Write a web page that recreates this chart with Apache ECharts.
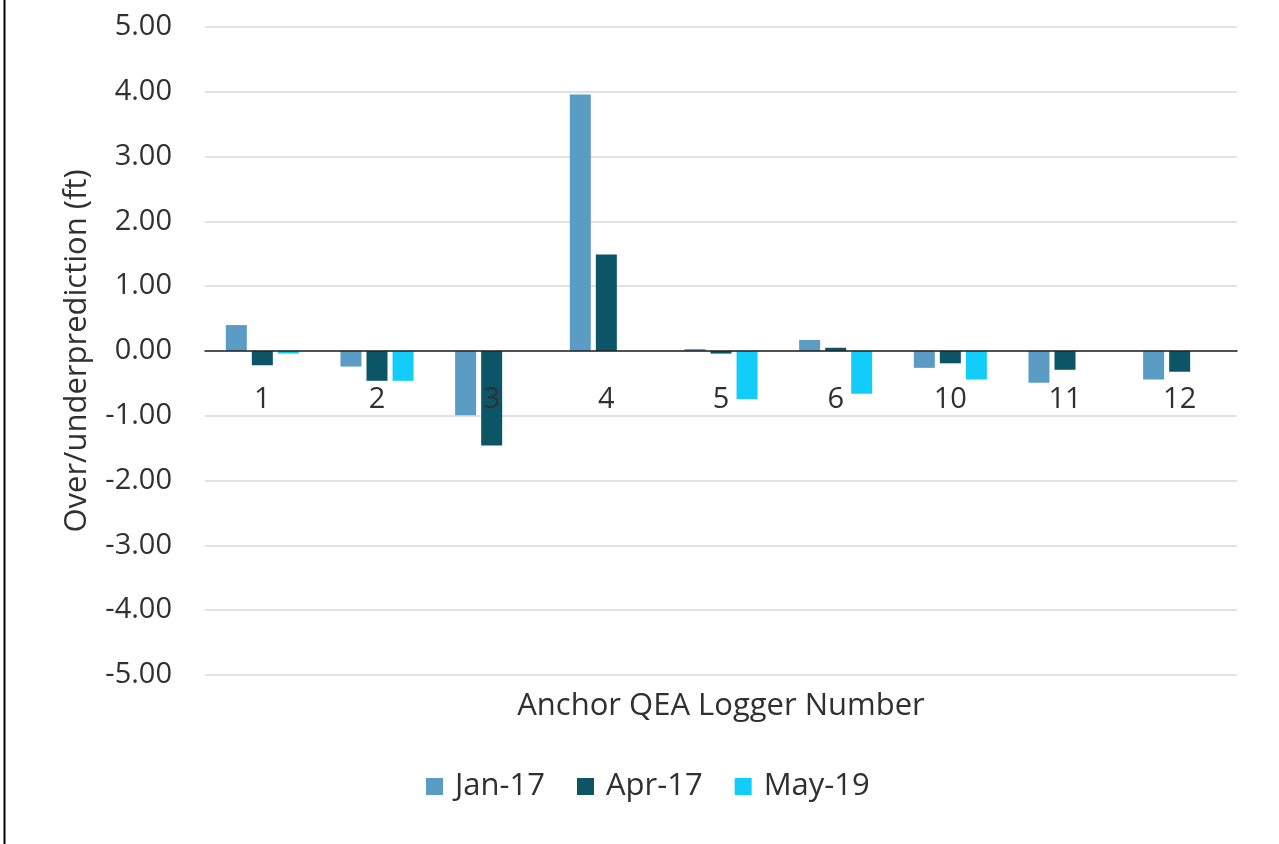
<!DOCTYPE html>
<html>
<head>
<meta charset="utf-8">
<title>Over/underprediction by Logger</title>
<script src="https://cdn.jsdelivr.net/npm/echarts@6/dist/echarts.min.js"></script>
<style>
  html, body { margin: 0; padding: 0; background: #ffffff; }
  #chart { width: 1279px; height: 844px; }
</style>
</head>
<body>
<div id="chart"></div>
<script>
// Logger numbers along the x axis
const loggers = ['1', '2', '3', '4', '5', '6', '10', '11', '12'];

// Over/underprediction (ft) per survey
const jan17 = [0.40, -0.24, -0.99, 3.96, 0.03, 0.17, -0.26, -0.49, -0.44];
const apr17 = [-0.22, -0.46, -1.46, 1.49, -0.04, 0.05, -0.19, -0.29, -0.32];
const may19 = [-0.04, -0.46, null, null, -0.74, -0.66, -0.44, null, null];

const seriesNames = ['Jan-17', 'Apr-17', 'May-19'];
const seriesColors = ['#5A9CC4', '#0C5567', '#12CDF9'];

const FONT = '"Open Sans", "Noto Sans", sans-serif';
const TEXT = '#303030';

const chart = echarts.init(document.getElementById('chart'), null, { renderer: 'canvas' });

function barSeries(name, data, color) {
  return {
    name: name,
    type: 'bar',
    data: data,
    barWidth: 21,
    barGap: '24%',
    itemStyle: { color: color },
    emphasis: { disabled: true }
  };
}

chart.setOption({
  animation: false,
  backgroundColor: '#ffffff',
  textStyle: { fontFamily: FONT, color: TEXT },
  grid: {
    left: 205, right: 42, top: 27, bottom: 169,
    containLabel: false,
    outerBoundsMode: 'none'
  },
  legend: {
    data: seriesNames,
    bottom: 37,
    left: 421,
    itemWidth: 17,
    itemHeight: 17,
    itemGap: 32,
    icon: 'rect',
    textStyle: { fontFamily: FONT, fontSize: 31, color: TEXT, padding: [0, 0, 0, 7] }
  },
  xAxis: {
    type: 'category',
    data: loggers,
    z: 5,
    axisLine: { onZero: true, lineStyle: { color: '#222222', width: 1.5 } },
    axisTick: { show: false },
    // category labels sit just under the zero line, drawn over the bars
    axisLabel: { fontFamily: FONT, fontSize: 29, color: TEXT, margin: -290 },
    name: 'Anchor QEA Logger Number',
    nameLocation: 'middle',
    nameGap: 16,
    nameTextStyle: { fontFamily: FONT, fontSize: 31, color: TEXT }
  },
  yAxis: {
    type: 'value',
    min: -5,
    max: 5,
    interval: 1,
    axisLine: { show: false },
    axisTick: { show: false },
    splitLine: { lineStyle: { color: '#d9d9d9', width: 1.5 } },
    axisLabel: {
      fontFamily: FONT, fontSize: 29, color: TEXT, margin: 33,
      formatter: function (v) { return v.toFixed(2); }
    },
    name: 'Over/underprediction (ft)',
    nameLocation: 'middle',
    nameGap: 112,
    nameTextStyle: { fontFamily: FONT, fontSize: 31, color: TEXT }
  },
  series: [
    barSeries(seriesNames[0], jan17, seriesColors[0]),
    barSeries(seriesNames[1], apr17, seriesColors[1]),
    barSeries(seriesNames[2], may19, seriesColors[2])
  ],
  graphic: [
    {
      type: 'line',
      shape: { x1: 4.5, y1: 0, x2: 4.5, y2: 844 },
      style: { stroke: '#000000', lineWidth: 2 }
    }
  ]
});
</script>
</body>
</html>
